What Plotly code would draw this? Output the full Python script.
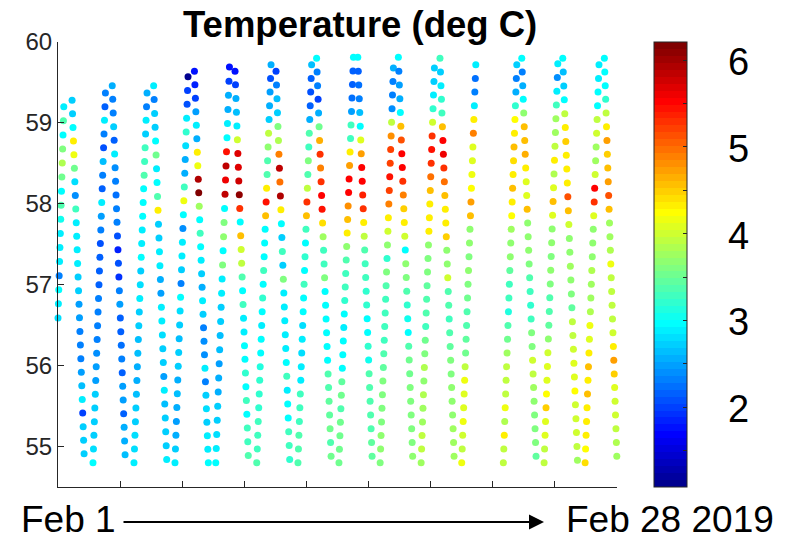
import numpy as np
import pandas as pd
import plotly.graph_objects as go

# ---------------------------------------------------------------------------
# Ship transects, February 2019.  Each transect is a straight run between its
# northern and southern end; stations are evenly spaced along the run.
# Times are day offsets from 1 Feb 2019.
# ---------------------------------------------------------------------------
top_day = [0.28, 0.68, 2.29, 2.62, 4.30, 4.62, 6.28, 6.59, 8.28, 8.55, 10.29, 10.53, 12.25, 12.49,
           14.27, 14.48, 16.20, 16.44, 18.18, 18.45, 20.18, 22.16, 22.40, 24.14, 24.38, 26.13, 26.39]
bottom_day = [0.00, 1.26, 1.69, 3.24, 3.67, 5.25, 5.65, 7.26, 7.62, 9.19, 9.60, 11.19, 11.59, 13.19,
              13.57, 15.17, 15.56, 17.13, 17.54, 19.13, 19.50, 21.51, 23.09, 23.48, 25.09, 25.46, 26.99]
top_lat = [59.20, 59.28, 59.37, 59.46, 59.37, 59.46, 59.57, 59.64, 59.69, 59.64, 59.72, 59.64, 59.72, 59.80,
           59.81, 59.81, 59.68, 59.81, 59.68, 59.80, 59.72, 59.72, 59.80, 59.73, 59.80, 59.72, 59.80]
bottom_lat = [56.59, 54.91, 54.80, 54.90, 54.80, 54.84, 54.80, 54.80, 54.80, 54.89, 54.80, 54.84, 54.80, 54.88,
              54.80, 54.88, 54.80, 54.88, 54.80, 54.88, 54.80, 54.80, 54.88, 54.80, 54.83, 54.80, 54.88]

# Temperature (deg C) at each station, listed north to south
transect_01 = [2.85, 3.4, 2.95, 3.6, 3.85, 3.55, 2.95, 3.4, 3.05, 2.85, 2.9, 2.9, 2.3, 2.95, 2.85, 2.8]
transect_02 = [2.75, 2.7, 2.95, 4.3, 4.2, 3.5, 2.8, 2.4, 3.3, 2.85, 2.9, 2.85,
               2.85, 2.75, 2.7, 2.5, 2.45, 2.35, 2.35, 2.3, 2.45, 2.65, 2.85, 2.0, 2.75, 2.75, 2.7]
transect_03 = [2.35, 2.2, 2.85, 2.3, 2.1, 2.65, 2.35, 2.2, 2.85, 2.5, 2.35, 2.1, 2.15,
               2.2, 2.2, 2.3, 2.35, 2.3, 2.35, 2.4, 2.45, 2.45, 2.7, 2.75, 2.7, 2.75, 2.8, 2.95]
transect_04 = [2.6, 2.35, 2.3, 2.7, 2.2, 2.9, 2.4, 2.3, 2.25, 2.35, 2.3, 2.05, 1.85,
               2.1, 1.95, 2.3, 2.5, 2.2, 2.15, 2.25, 2.35, 2.2, 2.45, 2.5, 2.15, 2.55, 2.6, 2.65]
transect_05 = [2.6, 2.3, 2.85, 2.75, 3.3, 3.3, 3.35, 2.95, 2.95, 2.95, 2.9, 2.9, 2.95,
               2.75, 2.8, 2.9, 2.75, 2.7, 2.65, 2.65, 2.6, 2.6, 2.65, 2.75, 2.75, 2.8, 2.8, 2.85]
transect_06 = [2.85, 2.35, 2.7, 2.75, 2.95, 3.55, 2.9, 2.95, 3.4, 4.3, 2.75, 2.7, 2.85,
               2.9, 2.6, 2.45, 2.9, 2.85, 2.8, 2.75, 2.7, 2.5, 2.9, 2.65, 2.7, 2.75, 2.75, 2.85]
transect_07 = [1.1, 2.0, 2.1, 2.85, 3.2, 2.8, 2.6, 2.6, 3.3, 4.15, 2.95, 2.4, 2.85, 2.85,
               2.7, 2.35, 3.0, 2.8, 2.7, 2.65, 2.7, 2.7, 2.55, 2.65, 2.6, 2.45, 2.6, 2.75, 2.85]
transect_08 = [1.75, 1.85, 2.0, 2.45, 2.9, 2.55, 4.3, 4.2, 5.95, 6.15, 3.75, 2.95, 3.25, 2.95, 2.9,
               2.7, 2.6, 2.9, 2.7, 2.35, 2.4, 2.4, 2.85, 2.35, 2.75, 2.8, 2.75, 2.85, 2.9, 2.95]
transect_09 = [1.8, 2.0, 2.6, 2.6, 2.85, 3.0, 5.45, 5.85, 5.6, 5.85, 3.0, 3.6, 3.7, 2.95,
               3.6, 2.85, 2.85, 2.7, 2.7, 2.65, 2.65, 2.45, 2.6, 2.55, 2.75, 2.75, 2.8, 2.85, 2.95]
transect_10 = [1.8, 2.0, 2.6, 2.65, 2.85, 4.0, 5.7, 5.7, 5.8, 6.05, 5.3, 3.0, 4.55, 4.0, 3.95,
               3.4, 2.95, 3.3, 2.9, 2.9, 3.0, 2.95, 3.2, 3.0, 3.25, 3.0, 3.3, 3.3, 3.35]
transect_11 = [2.6, 2.1, 2.5, 2.6, 2.7, 3.95, 3.7, 3.35, 3.4, 4.35, 5.45, 4.55, 3.0, 2.95, 3.0, 3.3,
               3.0, 3.2, 2.95, 2.9, 2.95, 2.95, 3.15, 3.2, 3.2, 3.2, 3.25, 3.25, 3.3, 3.35]
transect_12 = [2.0, 2.3, 2.65, 2.7, 3.6, 3.85, 4.85, 5.85, 4.95, 5.95, 4.35, 3.0, 2.75, 3.3,
               2.75, 3.6, 2.9, 2.9, 2.9, 2.9, 2.9, 2.95, 3.3, 2.9, 3.0, 2.95, 3.25, 3.3, 3.2]
transect_13 = [2.65, 2.2, 2.1, 2.15, 2.55, 3.35, 3.3, 3.6, 3.4, 3.9, 5.25, 4.6, 3.3, 3.0, 3.2,
               3.0, 3.3, 3.0, 2.95, 2.8, 2.85, 2.8, 2.9, 2.9, 3.25, 3.3, 3.25, 3.35, 3.35, 3.35]
transect_14 = [2.95, 2.3, 2.3, 2.0, 2.6, 3.55, 4.65, 5.25, 4.9, 5.3, 5.5, 5.45, 4.4, 3.75, 3.3,
               3.3, 3.6, 3.0, 3.0, 2.95, 2.95, 2.95, 3.0, 3.35, 3.4, 3.45, 3.45, 3.5, 3.4, 3.5]
transect_15 = [2.95, 2.2, 2.2, 2.25, 2.5, 3.3, 3.3, 4.3, 4.75, 5.55, 5.55, 4.8, 4.55, 4.35, 3.7, 3.4,
               3.3, 3.25, 3.2, 3.0, 2.9, 2.95, 3.0, 3.0, 3.45, 3.5, 3.4, 3.5, 3.55, 3.55, 3.55]
transect_16 = [3.0, 2.2, 2.25, 2.3, 2.65, 2.95, 4.05, 4.75, 5.5, 5.5, 5.35, 5.3, 4.3, 3.9, 3.4, 3.3,
               3.25, 3.2, 3.2, 3.0, 2.95, 3.2, 3.05, 3.35, 3.35, 3.35, 3.4, 3.4, 3.45, 3.45]
transect_17 = [2.6, 2.3, 2.35, 2.4, 3.95, 4.8, 5.2, 5.2, 5.45, 5.2, 4.9, 4.3, 4.0, 3.65, 3.2,
               3.6, 3.35, 3.3, 3.3, 3.3, 3.25, 3.35, 3.45, 3.6, 3.6, 3.6, 3.6, 3.65, 3.65, 3.6]
transect_18 = [2.95, 2.35, 2.5, 2.6, 2.95, 4.55, 5.15, 5.5, 5.5, 5.25, 4.85, 4.5, 4.3, 4.0, 3.0,
               3.65, 3.6, 3.35, 3.2, 3.05, 3.0, 3.4, 3.55, 3.55, 3.6, 3.6, 3.6, 3.6, 3.6, 3.65]
transect_19 = [2.7, 2.7, 2.9, 3.2, 4.0, 5.3, 5.45, 5.3, 4.95, 4.6, 4.35, 4.35, 4.3, 3.7, 3.6,
               3.6, 3.45, 3.4, 3.35, 3.3, 3.5, 3.6, 3.85, 3.7, 3.85, 3.75, 3.8, 3.95, 3.95, 3.8]
transect_20 = [3.3, 2.75, 2.9, 3.2, 3.3, 4.55, 5.5, 5.6, 5.3, 4.95, 4.6, 4.35, 4.3, 4.45, 3.7,
               3.7, 4.0, 3.4, 3.35, 3.3, 3.35, 3.45, 3.6, 3.6, 3.7, 3.7, 3.7, 3.75, 3.75, 3.8]
transect_21 = [2.9, 2.25, 2.35, 2.9, 4.3, 4.85, 4.05, 4.05, 4.2, 4.25, 4.75, 4.6, 3.7, 3.65, 3.6,
               3.65, 3.6, 3.55, 3.4, 3.4, 3.45, 3.55, 3.9, 4.2, 4.05, 4.05, 4.15, 4.0, 3.95, 4.15]
transect_22 = [2.75, 2.3, 2.6, 3.2, 4.25, 4.3, 4.55, 4.4, 4.35, 4.55, 4.3, 4.25, 3.75, 3.65, 3.65,
               3.45, 3.3, 3.25, 3.1, 3.4, 3.5, 3.8, 3.95, 3.95, 3.95, 4.15, 3.85, 4.3, 3.95, 3.9]
transect_23 = [2.95, 2.35, 2.6, 2.95, 3.7, 4.6, 4.6, 4.65, 4.35, 4.05, 4.05, 4.6, 3.7, 3.7, 3.65, 3.6,
               3.35, 3.25, 3.2, 3.25, 3.6, 3.6, 4.0, 3.95, 3.8, 3.7, 3.6, 3.6, 3.6, 3.45]
transect_24 = [2.85, 2.4, 2.85, 3.3, 3.75, 3.75, 3.95, 4.3, 3.85, 4.05, 4.55, 4.05, 3.7, 3.65, 3.6,
               3.65, 3.6, 3.4, 3.4, 3.45, 3.7, 4.0, 4.05, 4.05, 4.25, 4.5, 4.05, 4.05, 3.95, 3.95]
transect_25 = [2.95, 2.65, 2.7, 2.95, 3.95, 4.3, 4.5, 4.35, 4.3, 4.35, 5.15, 4.6, 4.0, 3.7, 3.65,
               3.75, 3.65, 3.6, 3.45, 3.9, 3.95, 4.0, 4.05, 4.05, 4.25, 4.0, 4.0, 4.0, 3.95, 3.8]
transect_26 = [2.9, 2.9, 2.95, 3.0, 3.95, 4.0, 3.75, 3.75, 4.0, 5.55, 5.3, 4.05, 3.7, 3.7, 3.7,
               3.85, 3.75, 3.75, 3.85, 4.15, 4.1, 4.3, 4.6, 4.3, 4.6, 4.35, 4.3, 4.3, 4.25, 4.4]
transect_27 = [2.95, 2.95, 2.95, 3.2, 3.95, 4.3, 4.75, 4.5, 4.55, 4.7, 5.15, 4.55, 3.75, 3.75, 3.85,
               4.2, 3.95, 3.95, 3.95, 3.9, 4.0, 4.35, 4.75, 4.45, 4.1, 4.0, 4.0, 3.95, 3.85, 3.8]

transects = [transect_01, transect_02, transect_03, transect_04, transect_05, transect_06, transect_07,
             transect_08, transect_09, transect_10, transect_11, transect_12, transect_13, transect_14,
             transect_15, transect_16, transect_17, transect_18, transect_19, transect_20, transect_21,
             transect_22, transect_23, transect_24, transect_25, transect_26, transect_27]

# colour limits and colour-bar ticks
CMIN, CMAX = 1.08, 6.21
cbar_ticks = [1.5, 2, 2.5, 3, 3.5, 4, 4.5, 5, 5.5, 6]
cbar_labels = [2, 3, 4, 5, 6]
lat_ticks = [55, 56, 57, 58, 59, 60]

START = pd.Timestamp("2019-02-01")
END = pd.Timestamp("2019-02-28")

# ---------------------------------------------------------------------------
# station positions along each run
# ---------------------------------------------------------------------------
times, lats, temps = [], [], []
for k, t in enumerate(transects):
    n = len(t)
    d = np.linspace(top_day[k], bottom_day[k], n)
    la = np.linspace(top_lat[k], bottom_lat[k], n)
    times.extend(START + pd.to_timedelta(d, unit="D"))
    lats.extend(la)
    temps.extend(t)


# MATLAB-style 64-level jet colormap
def jet64(m=64):
    n = int(np.ceil(m / 4))
    u = np.concatenate([np.arange(1, n + 1) / n, np.ones(n - 1), np.arange(n, 0, -1) / n])
    g = int(np.ceil(n / 2)) - (1 if m % 4 == 1 else 0) + np.arange(1, len(u) + 1)
    r = g + n
    b = g - n
    g = g[g <= m]
    r = r[r <= m]
    b = b[b >= 1]
    J = np.zeros((m, 3))
    J[r - 1, 0] = u[:len(r)]
    J[g - 1, 1] = u[:len(g)]
    J[b - 1, 2] = u[len(u) - len(b):]
    return J


J = jet64()
jet_scale = []
for i, (rr, gg, bb) in enumerate(J):
    c = f"rgb({int(round(rr * 255))},{int(round(gg * 255))},{int(round(bb * 255))})"
    jet_scale.append([i / 64, c])
    jet_scale.append([(i + 1) / 64, c])

# ---------------------------------------------------------------------------
# figure geometry (pixels)
# ---------------------------------------------------------------------------
W, H = 792, 538
L, R, T, B = 58, 617, 42, 487
pw, ph = R - L, B - T


def px_x(x):
    return (x - L) / pw


def px_y(y):
    return (B - y) / ph


AX = "#262626"
FONT = "Liberation Sans, Arial, sans-serif"

fig = go.Figure()
fig.add_trace(go.Scatter(
    x=times, y=lats, mode="markers", cliponaxis=False, hoverinfo="skip",
    marker=dict(
        size=7, color=temps, colorscale=jet_scale, cmin=CMIN, cmax=CMAX, showscale=True,
        line=dict(width=0),
        colorbar=dict(
            x=px_x(654), xanchor="left", xpad=0,
            y=0, yanchor="bottom", len=1, lenmode="fraction", ypad=0,
            thickness=33, thicknessmode="pixels",
            outlinecolor=AX, outlinewidth=1,
            tickmode="array", tickvals=cbar_ticks, ticks="inside", ticklen=4,
            tickcolor=AX, tickwidth=1, showticklabels=False,
        ),
    ),
))

annotations = []
# colour-bar labels
for v in cbar_labels:
    annotations.append(dict(
        x=px_x(726), y=(v - CMIN) / (CMAX - CMIN) - 2 / ph, xref="paper", yref="paper",
        xanchor="left", yanchor="middle", showarrow=False, text=str(v),
        font=dict(family=FONT, size=38, color="black"),
    ))
# title
annotations.append(dict(
    x=px_x(360), y=px_y(25), xref="paper", yref="paper", xanchor="center", yanchor="middle",
    showarrow=False, text="<b>Temperature (deg C)</b>",
    font=dict(family=FONT, size=36.5, color="black"),
))
# time span beneath the axis
annotations.append(dict(
    x=px_x(19), y=px_y(519), xref="paper", yref="paper", xanchor="left", yanchor="middle",
    height=34, valign="middle",
    showarrow=False, text="Feb 1", font=dict(family=FONT, size=37, color="black"),
))
annotations.append(dict(
    x=px_x(564), y=px_y(519), xref="paper", yref="paper", xanchor="left", yanchor="middle",
    height=34, valign="middle",
    showarrow=False, text="Feb 28 2019", font=dict(family=FONT, size=37, color="black"),
))
annotations.append(dict(
    x=px_x(544), y=px_y(522), xref="paper", yref="paper", text="",
    showarrow=True, ax=-(544 - 122), ay=0, axref="pixel", ayref="pixel",
    arrowhead=2, arrowsize=1.5, arrowwidth=2, arrowcolor="black", standoff=0,
))

tick_dates = pd.date_range(START, END, freq="3D")

fig.update_layout(
    width=W, height=H,
    margin=dict(l=L, r=W - R, t=T, b=H - B, pad=0),
    paper_bgcolor="white", plot_bgcolor="white",
    showlegend=False,
    annotations=annotations,
    xaxis=dict(
        type="date", range=[START, END], tickmode="array", tickvals=tick_dates,
        ticks="inside", ticklen=6, tickcolor=AX, tickwidth=1, showticklabels=False,
        showline=True, linecolor=AX, linewidth=1, showgrid=False, zeroline=False,
    ),
    yaxis=dict(
        range=[54.5, 60], tickmode="array", tickvals=lat_ticks,
        ticks="inside", ticklen=6, tickcolor=AX, tickwidth=1,
        tickfont=dict(family=FONT, size=24, color=AX), ticklabelstandoff=0,
        showline=True, linecolor=AX, linewidth=1, showgrid=False, zeroline=False,
    ),
)

fig.write_html("out.html", config={"displayModeBar": False})
